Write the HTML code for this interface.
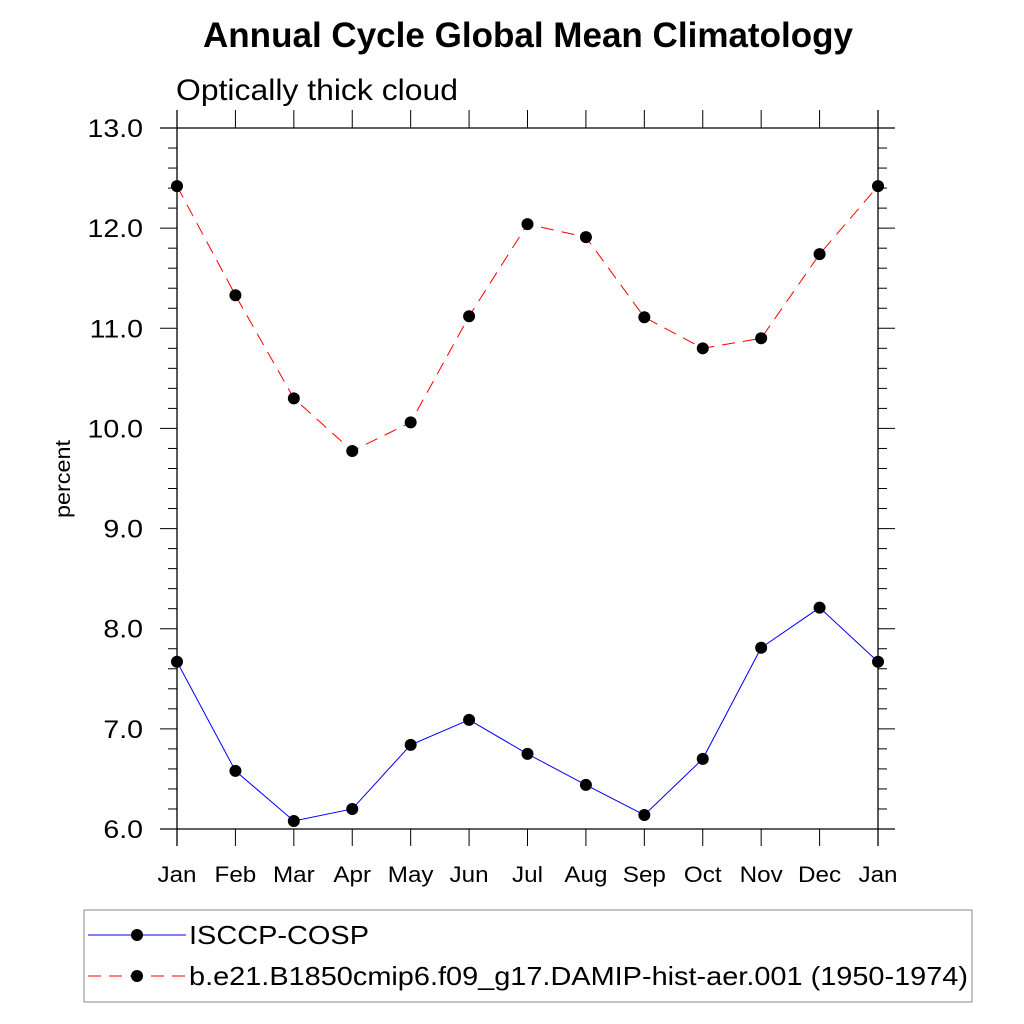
<!DOCTYPE html>
<html><head><meta charset="utf-8"><style>body{margin:0;background:#fff}svg{display:block}text{font-family:"Liberation Sans",sans-serif}</style></head>
<body>
<svg id="c" width="1024" height="1024" viewBox="0 0 1024 1024">
<text x="528" y="47" text-anchor="middle" font-size="35" font-weight="bold" textLength="650" lengthAdjust="spacingAndGlyphs">Annual Cycle Global Mean Climatology</text>
<text x="176" y="100" font-size="30" textLength="282" lengthAdjust="spacingAndGlyphs">Optically thick cloud</text>
<text transform="translate(70,479) rotate(-90)" text-anchor="middle" font-size="21" textLength="78" lengthAdjust="spacingAndGlyphs">percent</text>
<g id="axes"></g><g id="marks"></g>
<g>
<rect x="84" y="910" width="888" height="92" fill="#fff" stroke="#888" stroke-width="1"/>
<g><line x1="88" y1="935" x2="186" y2="935" stroke="#00f" stroke-width="1"/><circle cx="137" cy="935" r="6" fill="#000"/><text x="189" y="944" font-size="26" textLength="180" lengthAdjust="spacingAndGlyphs">ISCCP-COSP</text></g>
<g><line x1="88" y1="976" x2="186" y2="976" stroke="#f00" stroke-width="1" stroke-dasharray="13,8"/><circle cx="137" cy="976" r="6" fill="#000"/><text x="189" y="985" font-size="26" textLength="779" lengthAdjust="spacingAndGlyphs">b.e21.B1850cmip6.f09_g17.DAMIP-hist-aer.001 (1950-1974)</text></g>
</g>
</svg>
<script>
const months=["Jan","Feb","Mar","Apr","May","Jun","Jul","Aug","Sep","Oct","Nov","Dec","Jan"];
const isccp=[7.67,6.58,6.08,6.20,6.84,7.09,6.75,6.44,6.14,6.70,7.81,8.21,7.67];
const model=[12.42,11.33,10.30,9.775,10.06,11.12,12.04,11.91,11.11,10.80,10.90,11.74,12.42];
const yTicks=["6.0","7.0","8.0","9.0","10.0","11.0","12.0","13.0"];
const NS="http://www.w3.org/2000/svg";
const X0=177,X1=878,Y0=829,Y1=128,YMIN=6,YMAX=13;
function xs(i){return X0+i*(X1-X0)/(months.length-1);}
function ys(v){return Y0-(v-YMIN)*(Y0-Y1)/(YMAX-YMIN);}
function mk(tag,attrs,parent){const e=document.createElementNS(NS,tag);for(const k in attrs)e.setAttribute(k,attrs[k]);parent.appendChild(e);return e;}
function stretch(t,f){const w=t.getComputedTextLength();t.setAttribute('textLength',w*f);t.setAttribute('lengthAdjust','spacingAndGlyphs');}
const ax=document.getElementById('axes'),mg=document.getElementById('marks');
const st={stroke:"#000","stroke-width":1.3};
let e;
e=mk('line',Object.assign({x1:160,y1:Y1,x2:895,y2:Y1},st),ax);


e=mk('line',Object.assign({x1:160,y1:Y0,x2:895,y2:Y0},st),ax);


e=mk('line',Object.assign({x1:X0,y1:110,x2:X0,y2:846},st),ax);


e=mk('line',Object.assign({x1:X1,y1:110,x2:X1,y2:846},st),ax);


months.forEach((m,i)=>{const x=xs(i);
 mk('line',{x1:x,y1:Y1-18,x2:x,y2:Y1,stroke:"#000","stroke-width":1},ax);
 mk('line',{x1:x,y1:Y0,x2:x,y2:Y0+17,stroke:"#000","stroke-width":1},ax);
 const t=mk('text',{x:x,y:882,"text-anchor":"middle","font-size":22},ax);t.textContent=m;
 
 
 stretch(t,1.1);
});
for(let v=YMIN;v<=YMAX+1e-9;v+=0.2){const y=ys(v);const major=Math.abs(v-Math.round(v))<1e-6;const L=major?17:9;
 mk('line',{x1:X0-L,y1:y,x2:X0,y2:y,stroke:"#000","stroke-width":1},ax);
 mk('line',{x1:X1,y1:y,x2:X1+L,y2:y,stroke:"#000","stroke-width":1},ax);}
yTicks.forEach(s=>{const t=mk('text',{x:143,y:ys(parseFloat(s))+9,"text-anchor":"end","font-size":25},ax);t.textContent=s;
 
 
 stretch(t,1.14);});
function series(vals,color,dash,name){
 const p=mk('polyline',{points:vals.map((v,i)=>xs(i)+','+ys(v)).join(' '),fill:"none",stroke:color,"stroke-width":1,"stroke-dasharray":dash},mg);
 
 
 vals.forEach((v,i)=>{const c=mk('circle',{cx:xs(i),cy:ys(v),r:6,fill:"#000"},mg);
  
  });
}
series(isccp,"#00f","none","isccp");
series(model,"#f00","13,8","model");
</script>
</body></html>
